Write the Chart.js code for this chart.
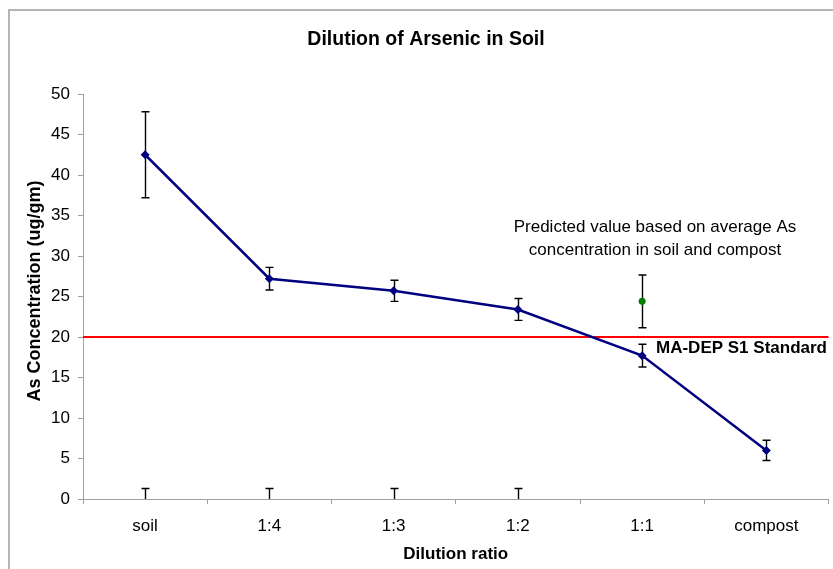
<!DOCTYPE html>
<html>
<head>
<meta charset="utf-8">
<title>Dilution of Arsenic in Soil</title>
<script src="https://cdn.jsdelivr.net/npm/chart.js@4"></script>
<style>
    html, body { margin: 0; padding: 0; background: #fff; }
    #wrap { width: 833px; height: 569px; position: relative; }
</style>
</head>
<body>
<div id="wrap"><canvas id="arsenicChart"></canvas></div>
<script>
// Data
const categories = ['soil', '1:4', '1:3', '1:2', '1:1', 'compost'];
const measured = [42.5, 27.2, 25.7, 23.4, 17.7, 6.0];
const measuredErr = [5.3, 1.4, 1.3, 1.35, 1.4, 1.25];
const predicted = [null, null, null, null, 24.4, null];
const predictedErr = [null, null, null, null, 3.25, null];
const zeroSeries = [0, 0, 0, 0, null, null];
const zeroErr = [1.3, 1.3, 1.3, 1.3, null, null];
const standardValue = 20;
const yTicks = [0, 5, 10, 15, 20, 25, 30, 35, 40, 45, 50];

const FONT = '"Liberation Sans", Arial, sans-serif';

// Frame, title and free text
const decorPlugin = {
    id: 'decor',
    beforeDraw(chart) {
        const ctx = chart.ctx;
        ctx.save();
        ctx.fillStyle = '#fff';
        ctx.fillRect(0, 0, chart.width, chart.height);
        ctx.strokeStyle = '#b4b4b4';
        ctx.lineWidth = 2;
        ctx.beginPath();
        ctx.moveTo(9, chart.height);
        ctx.lineTo(9, 10);
        ctx.lineTo(chart.width, 10);
        ctx.stroke();
        ctx.restore();
    },
    afterDraw(chart) {
        const ctx = chart.ctx;
        const area = chart.chartArea;
        ctx.save();
        ctx.fillStyle = '#000';
        ctx.textAlign = 'center';
        ctx.textBaseline = 'alphabetic';

        ctx.font = 'bold 19.5px ' + FONT;
        ctx.fillText('Dilution of Arsenic in Soil', 426, 45);

        ctx.font = 'bold 17px ' + FONT;
        ctx.fillText('Dilution ratio', (area.left + area.right) / 2, 559);

        ctx.save();
        ctx.font = 'bold 18px ' + FONT;
        ctx.translate(40, 291);
        ctx.rotate(-Math.PI / 2);
        ctx.fillText('As Concentration (ug/gm)', 0, 0);
        ctx.restore();

        ctx.font = '17px ' + FONT;
        ctx.fillText('Predicted value based on average As', 655, 232);
        ctx.fillText('concentration in soil and compost', 655, 255);

        const yStd = chart.scales.y.getPixelForValue(standardValue);
        ctx.textAlign = 'left';
        ctx.font = 'bold 17px ' + FONT;
        ctx.fillText('MA-DEP S1 Standard', 656, yStd + 16);
        ctx.restore();
    }
};

// Standard line and error bars
const errorBarPlugin = {
    id: 'errorBars',
    beforeDatasetsDraw(chart) {
        const ctx = chart.ctx;
        const x = chart.scales.x;
        const y = chart.scales.y;
        const area = chart.chartArea;

        ctx.save();
        ctx.strokeStyle = '#ff0000';
        ctx.lineWidth = 2;
        const yStd = Math.round(y.getPixelForValue(standardValue));
        ctx.beginPath();
        ctx.moveTo(area.left, yStd);
        ctx.lineTo(area.right, yStd);
        ctx.stroke();

        ctx.beginPath();
        ctx.rect(area.left, area.top - 10, area.right - area.left, area.bottom - area.top + 10);
        ctx.clip();
        ctx.strokeStyle = '#000';
        ctx.lineWidth = 1.4;
        const sets = [
            [measured, measuredErr],
            [predicted, predictedErr],
            [zeroSeries, zeroErr]
        ];
        sets.forEach(([vals, errs]) => {
            vals.forEach((v, i) => {
                if (v === null || errs[i] === null) return;
                const px = Math.round(x.getPixelForValue(i)) + 0.5;
                const top = y.getPixelForValue(v + errs[i]);
                const bot = y.getPixelForValue(v - errs[i]);
                ctx.beginPath();
                ctx.moveTo(px, top);
                ctx.lineTo(px, bot);
                ctx.moveTo(px - 4, top);
                ctx.lineTo(px + 4, top);
                ctx.moveTo(px - 4, bot);
                ctx.lineTo(px + 4, bot);
                ctx.stroke();
            });
        });
        ctx.restore();
    }
};

const ctx = document.getElementById('arsenicChart').getContext('2d');
new Chart(ctx, {
    type: 'line',
    data: {
        labels: categories,
        datasets: [{
            label: 'Measured',
            data: measured,
            borderColor: '#000080',
            backgroundColor: '#000080',
            borderWidth: 2.5,
            pointStyle: 'rectRot',
            pointRadius: 4.5,
            pointBorderWidth: 0,
            tension: 0
        }, {
            label: 'Predicted',
            data: predicted,
            showLine: false,
            borderColor: '#008000',
            backgroundColor: '#008000',
            pointStyle: 'circle',
            pointRadius: 3.5,
            pointBorderWidth: 0
        }, {
            label: 'Zero',
            data: zeroSeries,
            showLine: false,
            pointRadius: 0
        }]
    },
    options: {
        responsive: true,
        maintainAspectRatio: false,
        animation: false,
        devicePixelRatio: 1,
        layout: {
            padding: { top: 94, right: 2, bottom: 0, left: 0 }
        },
        plugins: {
            legend: { display: false },
            title: { display: false },
            tooltip: { enabled: false }
        },
        scales: {
            x: {
                offset: true,
                afterFit(scale) { scale.height = 70; },
                grid: {
                    offset: true,
                    drawOnChartArea: false,
                    drawTicks: true,
                    tickLength: 5,
                    color: '#a0a0a0'
                },
                border: { color: '#a0a0a0', width: 1 },
                ticks: {
                    color: '#000',
                    padding: 12,
                    font: { family: FONT, size: 17 }
                }
            },
            y: {
                min: 0,
                max: 50,
                afterFit(scale) { scale.width = 83; },
                afterBuildTicks(scale) {
                    scale.ticks = yTicks.map(v => ({ value: v }));
                },
                grid: {
                    drawOnChartArea: false,
                    drawTicks: true,
                    tickLength: 5,
                    color: '#a0a0a0'
                },
                border: { color: '#a0a0a0', width: 1 },
                ticks: {
                    color: '#000',
                    padding: 8,
                    font: { family: FONT, size: 17 }
                }
            }
        }
    },
    plugins: [decorPlugin, errorBarPlugin]
});
</script>
</body>
</html>
